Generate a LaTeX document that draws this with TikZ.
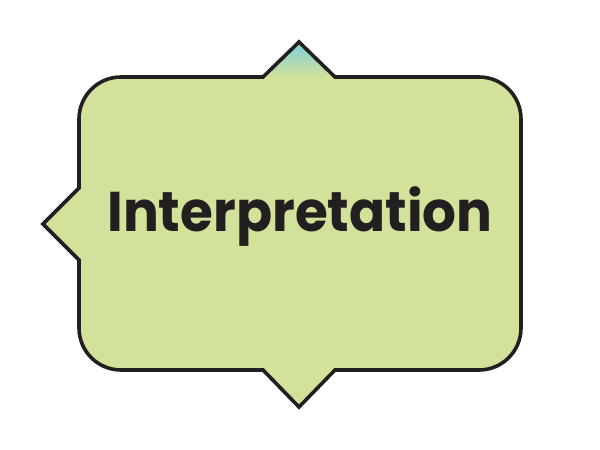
\documentclass[tikz,border=0pt]{standalone}
\usepackage{fontspec}
\newfontfamily\calloutfont{Poppins}
\usetikzlibrary{positioning}
\definecolor{calloutfill}{RGB}{210,226,155}
\definecolor{callouttip}{RGB}{125,206,220}
\definecolor{calloutline}{RGB}{35,31,32}

\begin{document}
\begin{tikzpicture}[
    x=1pt, y=1pt,
    outline/.style={draw=calloutline, line width=3.6pt, line join=miter},
    label/.style={font=\calloutfont\bfseries\fontsize{56}{66}\selectfont, text=calloutline, inner sep=0pt}
  ]
  \useasboundingbox (0,0) rectangle (600,450);

  % bubble body
  \fill[calloutfill] (121,373) -- (263,373) -- (299,408) -- (335,373) -- (479,373)
    arc[start angle=90, end angle=0, radius=42] -- (521,122)
    arc[start angle=0, end angle=-90, radius=42] -- (335,80) -- (299,43) -- (263,80) -- (121,80)
    arc[start angle=270, end angle=180, radius=42] -- (79,190) -- (43,226) -- (79,262) -- (79,331)
    arc[start angle=180, end angle=90, radius=42] -- cycle;

  % top pointer gradient
  \shade[top color=callouttip, bottom color=calloutfill] (263,373) -- (299,408) -- (335,373) -- cycle;

  % outline
  \draw[outline] (121,373) -- (263,373) -- (299,408) -- (335,373) -- (479,373)
    arc[start angle=90, end angle=0, radius=42] -- (521,122)
    arc[start angle=0, end angle=-90, radius=42] -- (335,80) -- (299,43) -- (263,80) -- (121,80)
    arc[start angle=270, end angle=180, radius=42] -- (79,190) -- (43,226) -- (79,262) -- (79,331)
    arc[start angle=180, end angle=90, radius=42] -- cycle;

  % text
  \node[label, anchor=base, xscale=0.95, transform shape] (title) at (300,218) {Interpretation};
\end{tikzpicture}
\end{document}
